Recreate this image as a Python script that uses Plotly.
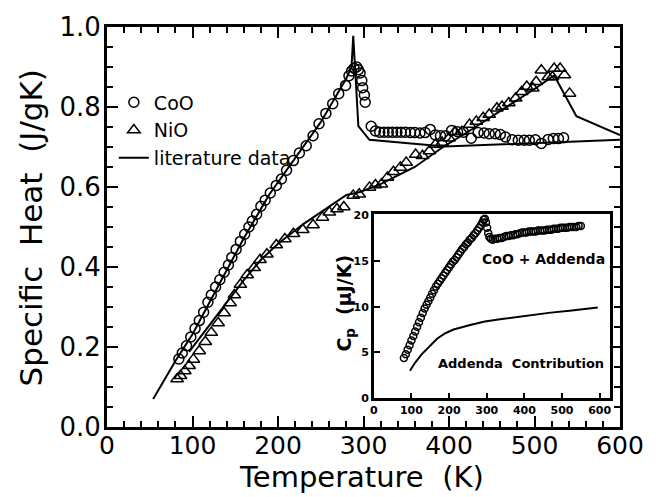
import plotly.graph_objects as go

# ---------------- main panel data ----------------
coo_T = [84, 88, 93, 98, 103, 108, 113, 118, 122, 127, 132, 137, 142, 146, 151, 156, 161, 166, 170, 175,
         180, 185, 191, 198, 204, 210, 218, 225, 233, 241, 248, 256, 264, 271, 279, 283, 286, 289, 292, 294,
         296, 298, 299, 301, 302, 309, 314, 319, 324, 329, 334, 339, 344, 349, 355, 360, 366, 372, 378, 384,
         390, 396, 403, 410, 417, 426, 434, 441, 447, 454, 460, 466, 474, 481, 488, 494, 501, 508, 516, 522,
         528, 534]
coo_cp = [0.170, 0.185, 0.203, 0.225, 0.246, 0.266, 0.287, 0.312, 0.330, 0.350, 0.368, 0.387, 0.405, 0.424,
          0.444, 0.464, 0.482, 0.500, 0.515, 0.532, 0.552, 0.567, 0.585, 0.604, 0.620, 0.642, 0.666, 0.685,
          0.703, 0.728, 0.758, 0.784, 0.808, 0.833, 0.854, 0.878, 0.890, 0.897, 0.900, 0.893, 0.885, 0.866,
          0.848, 0.830, 0.812, 0.752, 0.740, 0.737, 0.737, 0.737, 0.737, 0.737, 0.737, 0.737, 0.736, 0.736,
          0.735, 0.736, 0.744, 0.730, 0.728, 0.728, 0.741, 0.738, 0.737, 0.722, 0.736, 0.735, 0.733, 0.733,
          0.731, 0.725, 0.718, 0.717, 0.717, 0.717, 0.718, 0.709, 0.719, 0.721, 0.721, 0.723]

nio_T = [82, 86, 91, 96, 101, 108, 115, 122, 130, 137, 144, 149, 156, 164, 172, 179, 187, 198, 208, 218,
         229, 241, 252, 260, 269, 277, 288, 295, 307, 314, 321, 328, 335, 343, 350, 361, 369, 377, 384, 392,
         400, 407, 415, 424, 432, 440, 447, 456, 462, 470, 478, 485, 491, 498, 502, 508, 516, 521, 523, 530,
         535, 541]
nio_cp = [0.120, 0.128, 0.140, 0.153, 0.169, 0.190, 0.213, 0.236, 0.260, 0.285, 0.310, 0.330, 0.356, 0.380,
          0.398, 0.418, 0.432, 0.455, 0.470, 0.483, 0.493, 0.505, 0.524, 0.537, 0.545, 0.550, 0.579, 0.582,
          0.599, 0.605, 0.607, 0.624, 0.638, 0.649, 0.661, 0.681, 0.678, 0.690, 0.706, 0.711, 0.722, 0.738,
          0.738, 0.756, 0.764, 0.773, 0.781, 0.797, 0.801, 0.810, 0.822, 0.838, 0.851, 0.847, 0.863, 0.892,
          0.875, 0.875, 0.896, 0.896, 0.880, 0.834]

lit_coo_T = [54, 80, 100, 130, 160, 190, 220, 250, 280, 286, 288, 290, 294, 307, 395, 600]
lit_coo_cp = [0.070, 0.165, 0.232, 0.352, 0.472, 0.582, 0.672, 0.762, 0.872, 0.900, 0.978, 0.900, 0.752,
              0.718, 0.701, 0.718]

lit_nio_T = [96, 102, 120, 140, 160, 180, 200, 230, 260, 280, 295, 320, 360, 393, 420, 460, 500, 523, 549, 600]
lit_nio_cp = [0.188, 0.205, 0.255, 0.312, 0.367, 0.418, 0.458, 0.508, 0.550, 0.580, 0.587, 0.607, 0.650,
              0.700, 0.735, 0.790, 0.845, 0.879, 0.777, 0.730]

# ---------------- inset data ----------------
inset_T = [80, 85, 90, 95, 100, 105, 110, 115, 120, 125, 130, 135, 140, 145, 150, 155, 160, 165, 170, 175,
           180, 185, 190, 195, 200, 205, 210, 215, 220, 225, 230, 235, 240, 245, 250, 255, 260, 265, 270, 275,
           280, 285, 289, 292, 295, 298, 301, 304, 307, 311, 316, 322, 328, 334, 340, 346, 352, 358, 364, 370,
           376, 382, 388, 394, 400, 406, 412, 418, 424, 430, 436, 442, 448, 454, 460, 466, 472, 478, 484, 490,
           496, 502, 508, 514, 520, 526, 532, 538, 544, 550]
inset_cp = [4.4, 4.8, 5.3, 5.8, 6.3, 6.8, 7.3, 7.8, 8.3, 8.8, 9.3, 9.8, 10.2, 10.6, 11.0, 11.4, 11.8, 12.2,
            12.5, 12.8, 13.1, 13.4, 13.7, 14.0, 14.3, 14.6, 14.9, 15.1, 15.4, 15.7, 16.0, 16.3, 16.5, 16.8,
            17.0, 17.3, 17.5, 17.8, 18.0, 18.3, 18.6, 18.9, 19.2, 19.5, 19.6, 19.2, 18.6, 18.0, 17.6, 17.4,
            17.3, 17.4, 17.4, 17.5, 17.5, 17.6, 17.7, 17.7, 17.8, 17.8, 17.9, 17.9, 18.0, 18.1, 18.1, 18.1,
            18.2, 18.2, 18.2, 18.2, 18.3, 18.3, 18.3, 18.3, 18.4, 18.4, 18.4, 18.5, 18.5, 18.5, 18.6, 18.6,
            18.6, 18.6, 18.7, 18.7, 18.7, 18.7, 18.8, 18.8]

addenda_T = [96, 110, 127, 150, 168, 190, 212, 256, 295, 340, 383, 430, 470, 520, 555, 595]
addenda_cp = [3.0, 3.9, 4.8, 5.8, 6.5, 7.1, 7.5, 8.0, 8.37, 8.65, 8.9, 9.15, 9.35, 9.55, 9.7, 9.9]

FONT = "DejaVu Sans"
W, H = 656, 497
L, R, T, B = 107, 26, 23, 70
PW, PH = W - L - R, H - T - B


def px_x(px):
    return (px - L) / PW


def px_y(py):
    return (H - B - py) / PH


fig = go.Figure()

fig.add_trace(go.Scatter(x=coo_T, y=coo_cp, mode="markers", name="CoO",
                         marker=dict(symbol="circle-open", size=10, color="black", line=dict(width=1.5))))
fig.add_trace(go.Scatter(x=nio_T, y=nio_cp, mode="markers", name="NiO",
                         marker=dict(symbol="triangle-up-open", size=11, color="black", line=dict(width=1.5))))
fig.add_trace(go.Scatter(x=lit_coo_T, y=lit_coo_cp, mode="lines", name="literature data",
                         line=dict(color="black", width=2)))
fig.add_trace(go.Scatter(x=lit_nio_T, y=lit_nio_cp, mode="lines", name="literature data NiO",
                         line=dict(color="black", width=2), showlegend=False))

fig.add_trace(go.Scatter(x=inset_T, y=inset_cp, mode="markers", xaxis="x2", yaxis="y2", showlegend=False,
                         marker=dict(symbol="circle-open", size=7, color="black", line=dict(width=1.5))))
fig.add_trace(go.Scatter(x=addenda_T, y=addenda_cp, mode="lines", xaxis="x2", yaxis="y2", showlegend=False,
                         line=dict(color="black", width=2)))

axis_common = dict(showline=True, linecolor="black", mirror="allticks", ticks="inside",
                   tickcolor="black", showgrid=False, zeroline=False)

fig.update_layout(
    width=W, height=H,
    margin=dict(l=L, r=R, t=T, b=B),
    paper_bgcolor="white", plot_bgcolor="white",
    font=dict(family=FONT, color="black"),
    xaxis=dict(range=[0, 600], dtick=100, tick0=0, linewidth=3, ticklen=11, tickwidth=2,
               tickfont=dict(size=25, family=FONT), ticklabelstandoff=-6,
               minor=dict(dtick=20, ticks="inside", ticklen=6, tickwidth=2, tickcolor="black"),
               domain=[0, 1], anchor="y", **axis_common),
    yaxis=dict(range=[0, 1.0], dtick=0.2, tick0=0, tickformat=".1f", linewidth=3, ticklen=11, tickwidth=2,
               tickfont=dict(size=26, family=FONT), ticklabelstandoff=-2,
               minor=dict(dtick=0.05, ticks="inside", ticklen=6, tickwidth=2, tickcolor="black"),
               domain=[0, 1], anchor="x", **axis_common),
    xaxis2=dict(range=[0, 628], dtick=100, tick0=0, domain=[px_x(379), px_x(620)], anchor="y2",
                showline=True, linecolor="black", mirror=True, linewidth=2.5, ticks="inside", ticklen=6,
                tickwidth=1.5, tickcolor="black", showgrid=False, zeroline=False,
                tickfont=dict(size=11, family=FONT, weight="bold")),
    yaxis2=dict(range=[0, 20.1], dtick=5, tick0=0, domain=[px_y(398), px_y(212)], anchor="x2",
                showline=True, linecolor="black", mirror=True, linewidth=2.5, ticks="inside", ticklen=6,
                tickwidth=1.5, tickcolor="black", showgrid=False, zeroline=False,
                tickfont=dict(size=11, family=FONT, weight="bold")),
    legend=dict(x=px_x(114), y=px_y(80), xanchor="left", yanchor="top", bgcolor="rgba(0,0,0,0)",
                font=dict(size=19, family=FONT), itemwidth=30, tracegroupgap=0),
    showlegend=True,
)

fig.add_annotation(text="Temperature  (K)", xref="paper", yref="paper", x=px_x(366), y=px_y(477),
                   showarrow=False, font=dict(size=29, family=FONT), xanchor="center", yanchor="middle")
fig.add_annotation(text="Specific  Heat  (J/gK)", xref="paper", yref="paper", x=px_x(30), y=px_y(226),
                   showarrow=False, textangle=-90, font=dict(size=31, family=FONT),
                   xanchor="center", yanchor="middle")
fig.add_annotation(text="C<sub>p</sub>  (μJ/K)", xref="paper", yref="paper", x=px_x(350), y=px_y(302),
                   showarrow=False, textangle=-90, font=dict(size=19, family=FONT, weight="bold"),
                   xanchor="center", yanchor="middle")
fig.add_annotation(text="CoO + Addenda", xref="x2", yref="y2", x=450, y=15.2,
                   showarrow=False, font=dict(size=14, family=FONT, weight="bold"))
fig.add_annotation(text="Addenda  Contribution", xref="x2", yref="y2", x=390, y=3.8,
                   showarrow=False, font=dict(size=13, family=FONT, weight="bold"))

fig.write_html("out.html")
